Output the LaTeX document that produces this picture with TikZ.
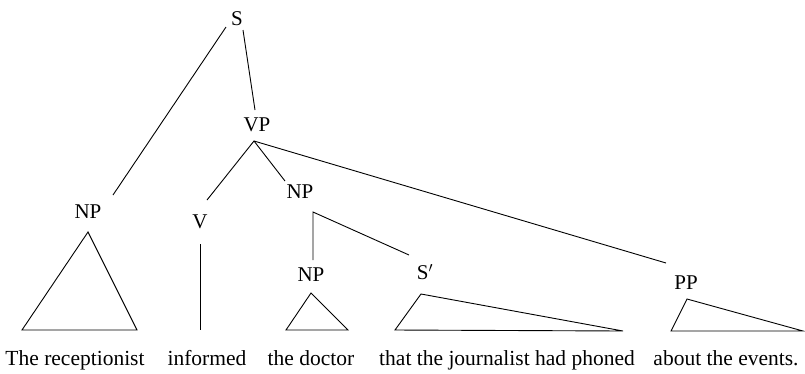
\documentclass[tikz,border=0pt]{standalone}
\usepackage{fontspec}
\setmainfont{Liberation Serif}
\begin{document}
\begin{tikzpicture}[x=1pt,y=-1pt,
  lab/.style={inner sep=0pt,font=\fontsize{21}{24}\selectfont},
  word/.style={inner sep=0pt,anchor=base,font=\fontsize{21.5}{24}\selectfont},
  br/.style={line width=0.9pt}]
\useasboundingbox (0,0) rectangle (805,373);
% labels
\node[lab] (S) at (237,19) {S};
\node[lab] (VP) at (257,125) {VP};
\node[lab] (NPa) at (88,212) {NP};
\node[lab] (V) at (200,222) {V};
\node[lab] (NPb) at (300,192) {NP};
\node[lab] (NPc) at (311,275) {NP};
\node[lab] (Sp) at (425,272) {S$'$};
\node[lab] (PP) at (686,283) {PP};
% words
\node[word] (w1) at (75,365) {The receptionist};
\node[word] (w2) at (207,365) {informed};
\node[word] (w3) at (311,365) {the doctor};
\node[word] (w4) at (507,365) {that the journalist had phoned};
\node[word] (w5) at (726,365) {about the events.};
% connector endpoints
\coordinate (Sl) at (226,27);
\coordinate (Sr) at (243,30);
\coordinate (NPat) at (113,195);
\coordinate (VPt) at (255,110);
\coordinate (VPb) at (254,141);
\coordinate (Vt) at (207,200);
\coordinate (NPbt) at (285,181);
\coordinate (PPt) at (666,263);
\coordinate (NPbb) at (313,212);
\coordinate (NPct) at (313,260);
\coordinate (Spt) at (409,255);
\coordinate (Vb) at (200,244);
\coordinate (Vw) at (200,330);
\draw[br] (Sl) -- (NPat);
\draw[br] (Sr) -- (VPt);
\draw[br] (Vt) -- (VPb) -- (PPt);
\draw[br] (VPb) -- (NPbt);
\draw[br] (NPct) -- (NPbb) -- (Spt);
\draw[br] (Vb) -- (Vw);
% triangles
\draw[br] (88,232) -- (22,330) -- (137,330) -- cycle;
\draw[br] (311,293) -- (286,330) -- (348,330) -- cycle;
\draw[br] (421,294) -- (395,330) -- (623,331) -- cycle;
\draw[br] (687,299) -- (671,331) -- (803,331) -- cycle;
\end{tikzpicture}
\end{document}
